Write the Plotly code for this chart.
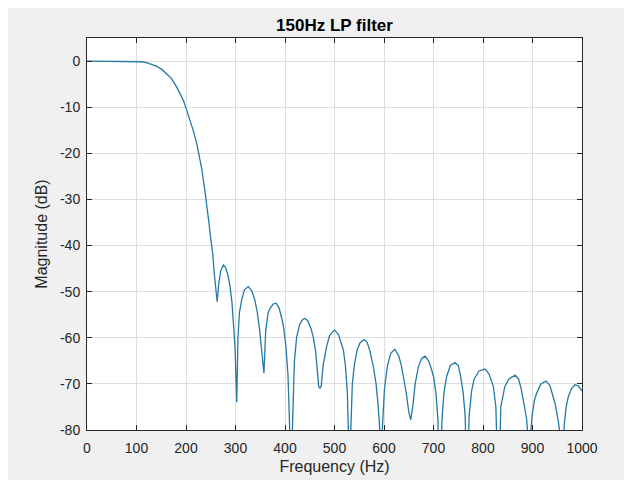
import plotly.graph_objects as go

freq = [0, 20, 40, 60, 80, 95, 110, 120, 130, 140, 150, 160, 170, 181, 190, 195, 200, 208, 215, 222,
        228, 232, 238, 242, 246.5, 250, 254, 257, 260, 263, 266, 270, 275.5, 280, 285, 289, 293, 296, 299,
        302.5, 305, 308, 312.5, 318, 326, 333, 339, 344, 349, 353, 357.5, 361, 366, 370, 376, 382, 388,
        393, 397, 402, 406, 409, 412, 415.5, 419, 423.6, 430, 436, 440.4, 446, 452, 457, 462, 466, 468,
        470.5, 473, 477, 481, 484, 490, 500, 508, 513, 518, 522, 526, 528, 530, 533, 536, 540, 546, 552,
        560, 566, 572, 578.5, 584, 588, 591, 594, 597, 601, 607, 614, 622, 630, 635, 639, 645, 650, 654,
        658, 663, 669.4, 676, 683, 690, 695, 700, 705, 709, 713, 717, 721, 726.6, 734, 743.4, 750, 755,
        760, 764, 768, 772, 777, 782, 792, 804, 812, 821, 826, 831, 836, 844, 852, 865, 872, 877, 881.4,
        888, 893.5, 899, 904, 908.5, 917, 927.3, 935, 940, 945.5, 952, 957, 960, 964, 968, 972.3, 979,
        986, 992, 997, 1000]
mag_db = [0, 0, 0, 0, 0, -0.05, -0.15, -0.36, -0.65, -1.1, -1.7, -2.6, -3.7, -5.6, -7.6, -8.6, -10.2,
          -12.8, -15.2, -18.0, -21.5, -23.5, -28, -31, -35.2, -38.5, -41.8, -46, -50, -52.2, -48.5, -45.5,
          -44.2, -44.8, -46.5, -48.9, -52.5, -56.5, -62, -74, -60, -54.5, -51.8, -49.6, -48.9, -49.8, -51.8,
          -54.5, -58.5, -63, -67.7, -58.5, -54.5, -53.6, -52.7, -52.5, -53.5, -55.6, -57.6, -62, -68, -78,
          -92, -78, -65, -59.8, -57, -56, -55.8, -56.3, -57.8, -59.8, -63, -68, -70.5, -71.0, -70.5, -66,
          -63, -61.9, -59.5, -58.3, -59.3, -60.8, -62.7, -66, -72, -80, -95, -80, -70, -66, -62.5, -61,
          -60.4, -61, -63, -66.3, -70, -74.5, -79, -92, -79, -71, -66, -63.3, -62.5, -64, -66, -68.4, -72,
          -76, -77.8, -75, -70, -66.3, -64.5, -64, -65, -66.5, -68.4, -72, -78, -95, -78, -72, -68.4, -66,
          -65.4, -66, -68.5, -72, -77, -95, -77, -71.5, -69, -67.2, -66.8, -67.8, -70.6, -75, -95, -75,
          -70.6, -69, -68.1, -69, -71, -73.5, -77.5, -85, -77, -73.5, -72, -70, -69.4, -70.3, -72, -74.2,
          -78, -82, -95, -79, -75, -72.8, -71, -70.2, -70.4, -71, -71.5]

x_ticks = [0, 100, 200, 300, 400, 500, 600, 700, 800, 900, 1000]
y_ticks = [0, -10, -20, -30, -40, -50, -60, -70, -80]

FONT = "Liberation Sans, Arial, sans-serif"

fig = go.Figure()
fig.add_trace(go.Scatter(x=freq, y=mag_db, mode="lines",
                         line=dict(color="#2479a6", width=1.3), showlegend=False))

axis_common = dict(showline=True, linecolor="#262626", linewidth=1, mirror="ticks",
                   ticks="inside", ticklen=5, tickcolor="#262626",
                   showgrid=True, gridcolor="#dedede", gridwidth=1, zeroline=False,
                   automargin=False,
                   tickfont=dict(family=FONT, size=14, color="#262626"))

fig.update_layout(
    width=624, height=472,
    paper_bgcolor="#f0f0f0", plot_bgcolor="white",
    margin=dict(l=79, r=50, t=30, b=50),
    title=dict(text="<b>150Hz LP filter</b>", x=0.5, xref="paper", xanchor="center",
               y=1, yref="paper", yanchor="bottom", pad=dict(b=7),
               font=dict(family=FONT, size=17, color="#000000")),
    xaxis=dict(range=[0, 1000], tickvals=x_ticks, ticktext=[str(v) for v in x_ticks],
               ticklabelstandoff=5,
               title=dict(text="Frequency (Hz)", standoff=6,
                          font=dict(family=FONT, size=16, color="#262626")),
               **axis_common),
    yaxis=dict(range=[-80, 5], tickvals=y_ticks, ticktext=[str(v) for v in y_ticks],
               ticklabelstandoff=3,
               title=dict(text="Magnitude (dB)", standoff=8,
                          font=dict(family=FONT, size=16, color="#262626")),
               **axis_common),
)

fig.write_html("out.html")
